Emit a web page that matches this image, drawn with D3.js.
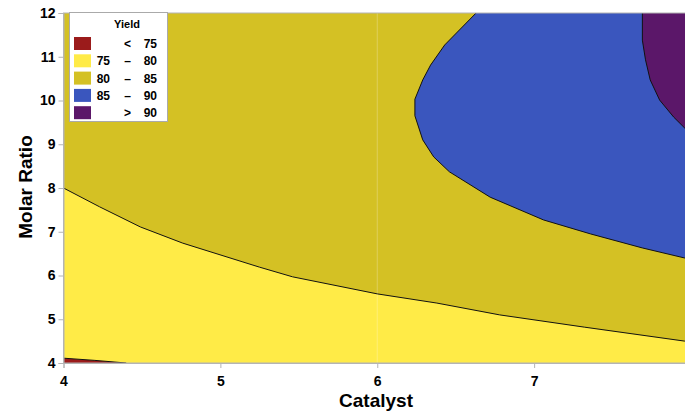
<!DOCTYPE html>
<html>
<head>
<meta charset="utf-8">
<script src="https://cdn.jsdelivr.net/npm/d3@7"></script>
<style>
  body { margin: 0; background: #fff; }
  text { font-family: "Liberation Sans", Arial, sans-serif; font-weight: bold; }
</style>
</head>
<body>
<div id="chart"></div>
<script>
// Yield contour boundaries, as [catalyst, molar ratio]
const contour75 = [[4, 4.11], [4.2, 4.06], [4.4, 4.0]];
const contour80 = [[4, 8.0], [4.23, 7.57], [4.49, 7.11], [4.76, 6.74], [5.25, 6.19], [5.46, 5.97],
                   [6.0, 5.58], [6.38, 5.37], [6.78, 5.10], [7.32, 4.82], [7.96, 4.50], [8.05, 4.47]];
const contour85 = [[6.63, 12], [6.43, 11.27], [6.34, 10.81], [6.29, 10.47], [6.24, 10.03], [6.24, 9.65],
                   [6.29, 9.10], [6.36, 8.71], [6.46, 8.37], [6.72, 7.79], [7.06, 7.27], [7.36, 6.95],
                   [7.69, 6.63], [7.96, 6.40], [8.05, 6.35]];
const contour90 = [[7.69, 12], [7.69, 11.38], [7.71, 10.93], [7.74, 10.47], [7.80, 10.01], [7.89, 9.62],
                   [7.96, 9.37], [8.05, 9.2]];

const legendLow = ["", "75", "80", "85", ""];
const legendSym = ["<", "\u2013", "\u2013", "\u2013", ">"];
const legendHigh = ["75", "80", "85", "90", "90"];
const bandColors = ["#9b1b1b", "#ffeb47", "#d4c124", "#3a56be", "#5b1769"];

const xTicks = [4, 5, 6, 7, 8];
const yTicks = [4, 5, 6, 7, 8, 9, 10, 11, 12];

const width = 685, height = 415;
const svg = d3.select("#chart").append("svg")
    .attr("width", width)
    .attr("height", height);

const x = d3.scaleLinear().domain([4, 8]).range([63.5, 691]);
const y = d3.scaleLinear().domain([4, 12]).range([363, 13]);
const xMax = 8.05;

const plot = svg.append("g");

// background band 80 - 85
plot.append("rect")
    .attr("x", x(4)).attr("y", y(12))
    .attr("width", x(xMax) - x(4)).attr("height", y(4) - y(12))
    .attr("fill", bandColors[2]);

const poly = d3.line().x(d => x(d[0])).y(d => y(d[1]));

// 75 - 80 below contour80
plot.append("path")
    .attr("d", poly(contour80.concat([[xMax, 4], [4, 4]])) + "Z")
    .attr("fill", bandColors[1]);

// < 75 corner
plot.append("path")
    .attr("d", poly(contour75.concat([[4, 4]])) + "Z")
    .attr("fill", bandColors[0]);

// 85 - 90
plot.append("path")
    .attr("d", poly(contour85.concat([[xMax, 12]])) + "Z")
    .attr("fill", bandColors[3]);

// > 90
plot.append("path")
    .attr("d", poly(contour90.concat([[xMax, 12]])) + "Z")
    .attr("fill", bandColors[4]);

// faint seam at catalyst 6
plot.append("line")
    .attr("x1", x(6)).attr("x2", x(6))
    .attr("y1", y(12)).attr("y2", y(4))
    .attr("stroke", "#fff").attr("stroke-opacity", 0.25);

// contour lines
[contour75, contour80, contour85, contour90].forEach(c => {
    plot.append("path")
        .attr("d", poly(c))
        .attr("fill", "none")
        .attr("stroke", "#111")
        .attr("stroke-width", 1);
});

// frame
svg.append("rect")
    .attr("x", x(4)).attr("y", y(12))
    .attr("width", x(xMax) - x(4)).attr("height", y(4) - y(12))
    .attr("fill", "none").attr("stroke", "#b4b4b4");

// axes
const xAxis = svg.append("g")
    .attr("transform", `translate(0,${y(4)})`)
    .call(d3.axisBottom(x).tickValues(xTicks).tickSize(5).tickPadding(8).tickFormat(d3.format("d")));
const yAxis = svg.append("g")
    .attr("transform", `translate(${x(4)},0)`)
    .call(d3.axisLeft(y).tickValues(yTicks).tickSize(5).tickPadding(3).tickFormat(d3.format("d")));

[xAxis, yAxis].forEach(a => {
    a.select(".domain").attr("stroke", "#b4b4b4");
    a.selectAll(".tick line").attr("stroke", "#b4b4b4");
    a.selectAll(".tick text")
        .attr("fill", "#000")
        .style("font-size", "14px")
        .style("font-family", "'Liberation Sans', Arial, sans-serif")
        .style("font-weight", "bold");
});

// axis titles
svg.append("text")
    .attr("x", 376)
    .attr("y", 407)
    .attr("text-anchor", "middle")
    .style("font-size", "19px")
    .text("Catalyst");

svg.append("text")
    .attr("transform", "rotate(-90)")
    .attr("x", -187)
    .attr("y", 32)
    .attr("text-anchor", "middle")
    .style("font-size", "19px")
    .text("Molar Ratio");

// legend
const legend = svg.append("g");
legend.append("rect")
    .attr("x", 69.5).attr("y", 12.5)
    .attr("width", 98).attr("height", 109)
    .attr("fill", "#fff").attr("stroke", "#aaa");

legend.append("text")
    .attr("x", 127).attr("y", 28)
    .attr("text-anchor", "middle")
    .style("font-size", "11px")
    .text("Yield");

const items = legend.selectAll(".legend-item")
    .data(bandColors)
    .enter().append("g")
    .attr("class", "legend-item")
    .attr("transform", (d, i) => `translate(0,${48 + i * 17.3})`);

items.append("rect")
    .attr("x", 74).attr("y", -11)
    .attr("width", 17).attr("height", 13)
    .attr("fill", d => d);

items.append("text")
    .attr("x", 110).attr("text-anchor", "end")
    .style("font-size", "12px")
    .text((d, i) => legendLow[i]);
items.append("text")
    .attr("x", 127.5).attr("text-anchor", "middle")
    .style("font-size", "12px")
    .text((d, i) => legendSym[i]);
items.append("text")
    .attr("x", 157).attr("text-anchor", "end")
    .style("font-size", "12px")
    .text((d, i) => legendHigh[i]);
</script>
</body>
</html>
